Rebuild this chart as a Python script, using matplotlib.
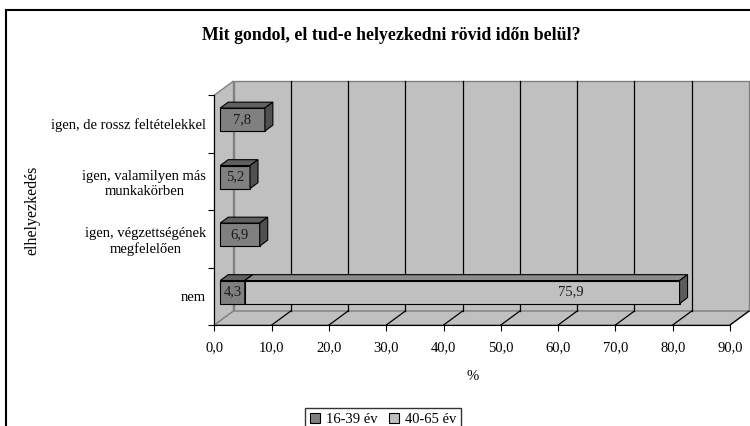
import numpy as np
import matplotlib
matplotlib.use("Agg")
import matplotlib.pyplot as plt
from matplotlib.patches import Polygon, Patch
from matplotlib.lines import Line2D

plt.rcParams['font.family'] = ['Liberation Serif', 'DejaVu Serif']
plt.rcParams['font.size'] = 10.5

# data (bottom to top)
categories = ['nem', 'igen, végzettségének\nmegfelelően',
              'igen, valamilyen más\nmunkakörben', 'igen, de rossz feltételekkel']
young = [4.3, 6.9, 5.2, 7.8]          # 16-39 év
old = [75.9, 0.0, 0.0, 0.0]           # 40-65 év
series_names = ['16-39 év', '40-65 év']
xticks = np.arange(0, 91, 10)

title = 'Mit gondol, el tud-e helyezkedni rövid időn belül?'

fig = plt.figure(figsize=(7.5, 4.26), dpi=100)
ax = fig.add_axes([214.5 / 750, 101 / 426, 515.5 / 750, 230 / 426])
ax.set_xlim(0, 90)
ax.set_ylim(-0.5, 3.5)
ax.patch.set_visible(False)

# 3d depth offset in data units
DX = 3.32
DY = 0.2435
d0, d1 = 0.3, 0.72
bh = 0.4
wall = '#C0C0C0'
edge = '#808080'

y0, y1 = -0.5, 3.5
# walls
ax.add_patch(Polygon([(DX, y0 + DY), (90 + DX, y0 + DY), (90 + DX, y1 + DY), (DX, y1 + DY)],
                     facecolor=wall, edgecolor=edge, lw=1, clip_on=False, zorder=0))
ax.add_patch(Polygon([(0, y0), (DX, y0 + DY), (DX, y1 + DY), (0, y1)],
                     facecolor=wall, edgecolor=edge, lw=1, clip_on=False, zorder=0))
ax.add_patch(Polygon([(0, y0), (90, y0), (90 + DX, y0 + DY), (DX, y0 + DY)],
                     facecolor=wall, edgecolor=edge, lw=1, clip_on=False, zorder=0))
for t in xticks[1:-1]:
    ax.plot([t + DX, t + DX], [y0 + DY, y1 + DY], color='black', lw=0.9, zorder=1, clip_on=False)
for t in xticks[1:]:
    ax.plot([t, t + DX], [y0, y0 + DY], color='black', lw=0.9, zorder=1, clip_on=False)


def box(ax, left, width, y, front, top, side):
    ax.barh(y + d0 * DY, width, left=left + d0 * DX, height=bh, color=front,
            edgecolor='black', lw=0.8, zorder=3)
    xa, xb = left + d0 * DX, left + width + d0 * DX
    yt = y + d0 * DY + bh / 2
    yb = y + d0 * DY - bh / 2
    ox, oy = (d1 - d0) * DX, (d1 - d0) * DY
    ax.add_patch(Polygon([(xa, yt), (xb, yt), (xb + ox, yt + oy), (xa + ox, yt + oy)],
                         facecolor=top, edgecolor='black', lw=0.8, zorder=3))
    ax.add_patch(Polygon([(xb, yb), (xb + ox, yb + oy), (xb + ox, yt + oy), (xb, yt)],
                         facecolor=side, edgecolor='black', lw=0.8, zorder=3))


ypos = np.arange(len(categories))
for i in ypos:
    box(ax, 0, young[i], i, '#808080', '#606060', '#505050')
    ax.text(d0 * DX + young[i] / 2, i + d0 * DY, f'{young[i]:.1f}'.replace('.', ','),
            ha='center', va='center', color='#1a1a1a', zorder=5)
    if old[i] > 0:
        box(ax, young[i], old[i], i, '#C0C0C0', '#8C8C8C', '#5C5C5C')
        ax.text(d0 * DX + young[i] + old[i] * 0.75, i + d0 * DY,
                f'{old[i]:.1f}'.replace('.', ','),
                ha='center', va='center', color='#1a1a1a', zorder=5)

# axes / ticks
for s in ['top', 'right']:
    ax.spines[s].set_visible(False)
ax.spines['left'].set_color('black')
ax.spines['bottom'].set_color('black')
ax.set_xticks(xticks)
ax.set_xticklabels([f'{t:.1f}'.replace('.', ',') for t in xticks])
ax.tick_params(axis='x', length=4, pad=8)
ax.set_yticks(np.arange(-0.5, 3.6, 1))
ax.set_yticklabels([])
ax.set_yticks(ypos, minor=True)
ax.set_yticklabels(categories, minor=True, ha='right', multialignment='center')
ax.tick_params(axis='y', which='major', length=4)
ax.tick_params(axis='y', which='minor', length=0, pad=6)
ax.set_xlabel('%', labelpad=11)

fig.text(32 / 750, 1 - 210 / 426, 'elhelyezkedés', rotation=90, ha='center', va='center',
         fontsize=11.5)
fig.text(391 / 750, 1 - 35 / 426, title, ha='center', va='center',
         fontsize=12.8, fontweight='bold')

handles = [Patch(facecolor='#808080', edgecolor='black', lw=0.8),
           Patch(facecolor='#C0C0C0', edgecolor='black', lw=0.8)]
leg = fig.legend(handles, series_names, loc='upper center', ncol=2,
                 bbox_to_anchor=(383 / 750, 1 - 401 / 426), fancybox=False,
                 handlelength=0.7, handleheight=0.7, handletextpad=0.4,
                 columnspacing=0.8, borderpad=0.3)
leg.get_frame().set_edgecolor('black')
leg.get_frame().set_linewidth(1)

# chart border (cropped at right and bottom)
fig.add_artist(Line2D([6 / 750, 6 / 750], [0, 1 - 10 / 426], color='black', lw=1.5,
                      transform=fig.transFigure))
fig.add_artist(Line2D([6 / 750, 1], [1 - 10 / 426, 1 - 10 / 426], color='black', lw=1.5,
                      transform=fig.transFigure))

fig.savefig('out.png', dpi=100)
